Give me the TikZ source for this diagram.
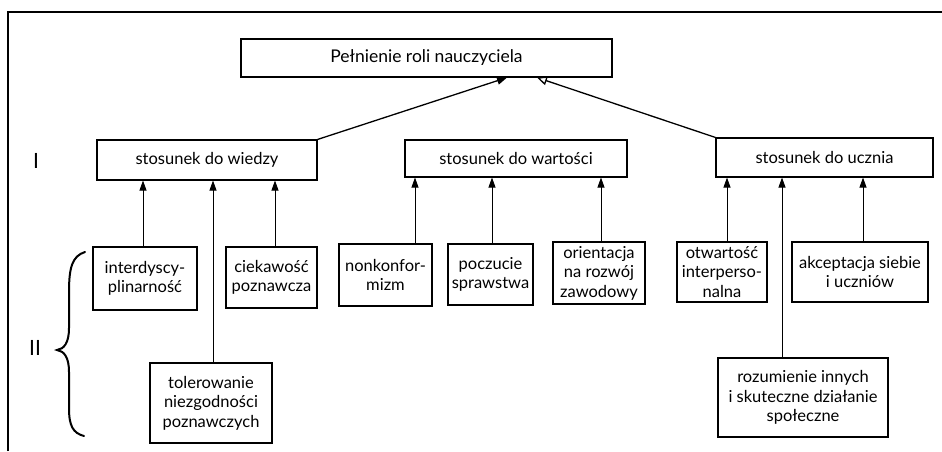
\documentclass[tikz,border=0pt]{standalone}
\usepackage{fontspec}
\setmainfont{Lato}
\usetikzlibrary{arrows.meta}
\begin{document}
\begin{tikzpicture}[x=1pt,y=-1pt,
  box/.style={draw,line width=1.1pt,inner sep=0pt,align=center,
    font=\fontsize{16.5}{19.5}\selectfont},
  arr/.style={line width=0.9pt,-{Triangle[length=10pt,width=7pt]}},
  diag/.style={line width=1.3pt,-{Triangle[length=10pt,width=8pt]}},
  openarr/.style={line width=1.3pt,-{Triangle[open,length=10pt,width=9pt,fill=white]}},
  lvl/.style={font=\fontsize{21}{22}\selectfont}]
\useasboundingbox (0,0) rectangle (942,451);
% frame
\draw[line width=2.6pt] (8,451) -- (8,12) -- (942,12);
% boxes
\node[box,minimum width=371pt,minimum height=38pt,font=\fontsize{17.5}{20}\selectfont] (top) at (426.5,58) {Pełnienie roli nauczyciela};
\node[box,minimum width=220pt,minimum height=40pt] (wie) at (207,160) {stosunek do wiedzy};
\node[box,minimum width=222pt,minimum height=37pt] (war) at (516,158.5) {stosunek do wartości};
\node[box,minimum width=217pt,minimum height=39pt] (ucz) at (824.5,157.5) {stosunek do ucznia};
\node[box,minimum width=104pt,minimum height=63pt] (int) at (145,278.5) {interdyscy-\\plinarność};
\node[box,minimum width=91pt,minimum height=61pt] (cie) at (271.5,277.5) {ciekawość\\poznawcza};
\node[box,minimum width=122pt,minimum height=80pt] (tol) at (211,403) {tolerowanie\\niezgodności\\poznawczych};
\node[box,minimum width=93pt,minimum height=62pt] (non) at (385.5,275) {nonkonfor-\\mizm};
\node[box,minimum width=85pt,minimum height=61pt] (poc) at (490.5,274.5) {poczucie\\sprawstwa};
\node[box,minimum width=92pt,minimum height=62pt] (ori) at (599,273) {orientacja\\na rozwój\\zawodowy};
\node[box,minimum width=90pt,minimum height=60pt] (otw) at (722,272) {otwartość\\interperso-\\nalna};
\node[box,minimum width=136pt,minimum height=60pt] (akc) at (860,272) {akceptacja siebie\\i uczniów};
\node[box,minimum width=170pt,minimum height=79pt] (roz) at (803,397.5) {rozumienie innych\\i skuteczne działanie\\społeczne};
% level labels
\node[lvl] (l1) at (36,161) {I};
\node[lvl] (l2) at (35,348) {II};
% x positions of connectors
\coordinate (xa) at (143,0);
\coordinate (xb) at (213,0);
\coordinate (xc) at (275,0);
\coordinate (xd) at (415,0);
\coordinate (xe) at (492,0);
\coordinate (xf) at (601,0);
\coordinate (xg) at (727,0);
\coordinate (xh) at (782,0);
\coordinate (xi) at (863,0);
\coordinate (tl) at (507,0);
\coordinate (tr) at (537,0);
% connectors
\draw[diag] (wie.north east) -- (top.south -| tl);
\draw[openarr] (ucz.north west) -- (top.south -| tr);
\draw[arr] (int.north -| xa) -- (wie.south -| xa);
\draw[arr] (tol.north -| xb) -- (wie.south -| xb);
\draw[arr] (cie.north -| xc) -- (wie.south -| xc);
\draw[arr] (non.north -| xd) -- (war.south -| xd);
\draw[arr] (poc.north -| xe) -- (war.south -| xe);
\draw[arr] (ori.north -| xf) -- (war.south -| xf);
\draw[arr] (otw.north -| xg) -- (ucz.south -| xg);
\draw[arr] (roz.north -| xh) -- (ucz.south -| xh);
\draw[arr] (akc.north -| xi) -- (ucz.south -| xi);
% brace
\draw[line width=2pt,line cap=round] (85,252) .. controls (72,256) and (69,268) .. (69,292)
  -- (69,328) .. controls (69,343) and (64,349) .. (57,350)
  .. controls (64,351) and (69,357) .. (69,372)
  -- (69,408) .. controls (69,426) and (73,433) .. (84,436);
\end{tikzpicture}
\end{document}
